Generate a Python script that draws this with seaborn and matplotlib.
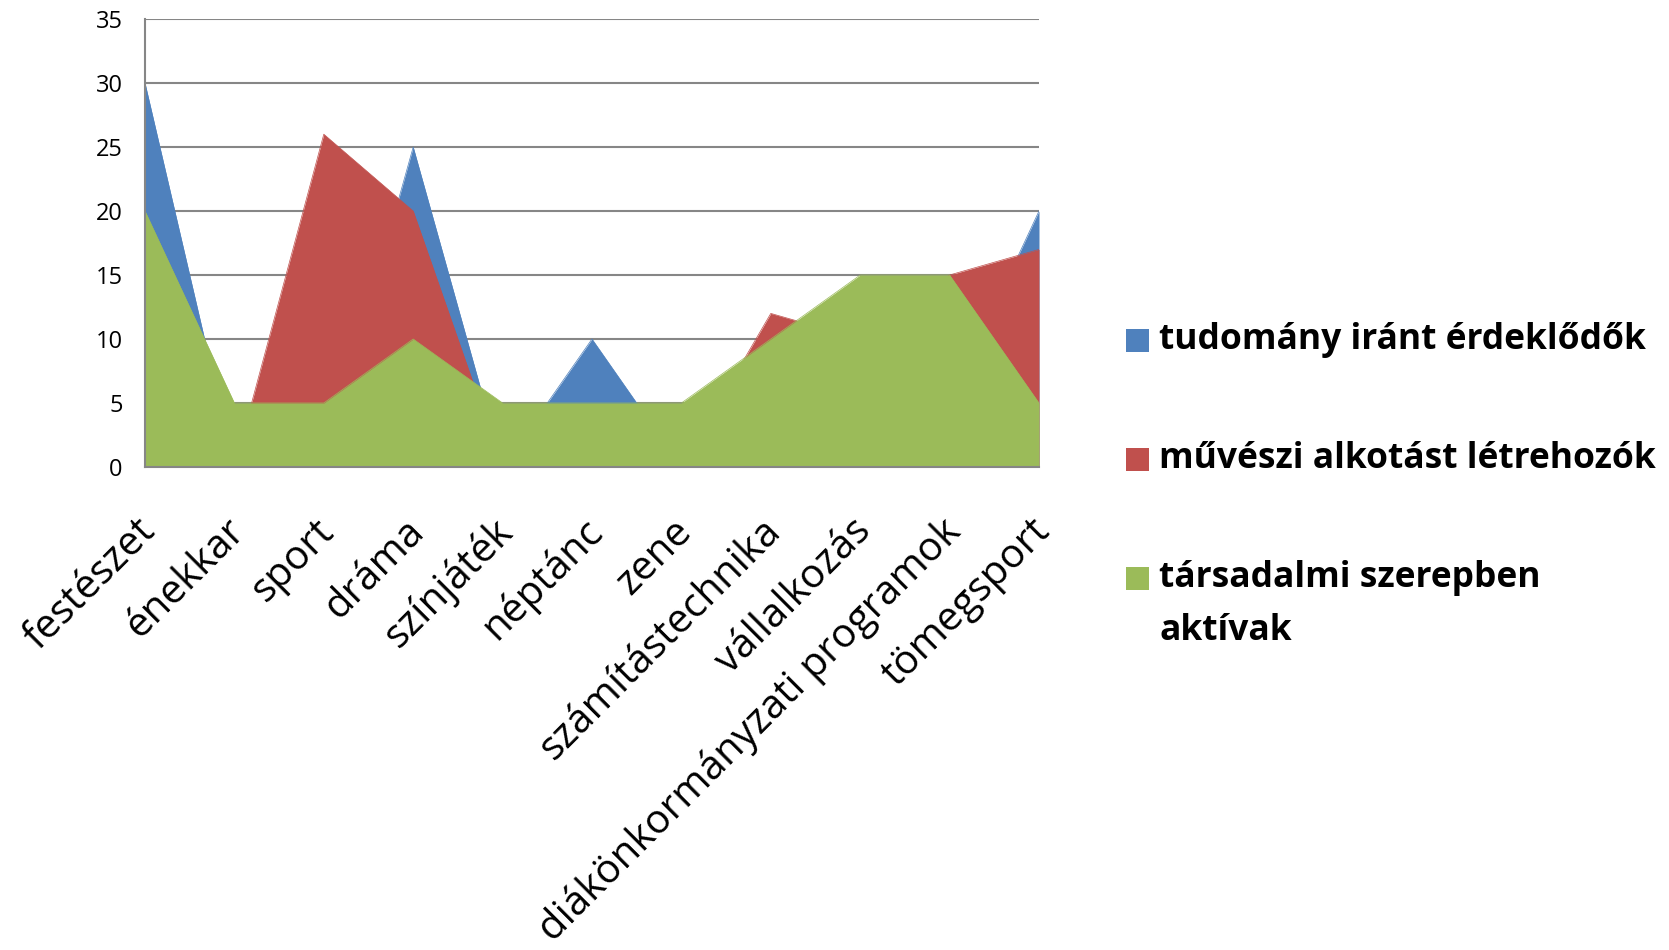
import matplotlib
matplotlib.use("Agg")
import matplotlib.pyplot as plt
import matplotlib.transforms as mtransforms
import seaborn as sns
import pandas as pd
import numpy as np
from matplotlib.patches import Rectangle

categories = ["festészet", "énekkar", "sport", "dráma", "színjáték", "néptánc",
              "zene", "számítástechnika", "vállalkozás",
              "diákönkormányzati programok", "tömegsport"]
tudomany = [30, 0, 0, 25, 0, 10, 0, 5, 5, 5, 20]
muveszi = [0, 0, 26, 20, 0, 0, 0, 12, 10, 15, 17]
tarsadalmi = [20, 5, 5, 10, 5, 5, 5, 10, 15, 15, 5]
series_names = ["tudomány iránt érdeklődők", "művészi alkotást létrehozók",
                "társadalmi szerepben\naktívak"]
y_ticks = [0, 5, 10, 15, 20, 25, 30, 35]

colors = ["#4F81BD", "#C0504D", "#9BBB59"]

sns.set_theme(style="white")
plt.rcParams["font.family"] = ["Open Sans", "DejaVu Sans"]

W, H = 1669, 950
fig = plt.figure(figsize=(W / 100, H / 100), dpi=100)
ax = fig.add_axes([145 / W, 1 - 467 / H, (1039 - 145) / W, (467 - 19) / H])

x = np.arange(len(categories))
df = pd.DataFrame({"x": np.tile(x, 3),
                   "value": tudomany + muveszi + tarsadalmi,
                   "series": np.repeat(series_names, len(categories))})

for name, col in zip(series_names, colors):
    sub = df[df["series"] == name]
    ax.fill_between(sub["x"], 0, sub["value"], color=col, linewidth=0, zorder=2)
    sns.lineplot(data=sub, x="x", y="value", color=col, linewidth=0.5, ax=ax,
                 zorder=2, legend=False)

ax.set_xlim(0, len(categories) - 1)
ax.set_ylim(0, 35)
ax.set_yticks(y_ticks)
ax.set_yticklabels([str(t) for t in y_ticks], fontsize=17, color="black")
ax.set_xticks(x)
ax.set_xticklabels(categories, fontsize=29, rotation=45, ha="right", va="center",
                   rotation_mode="anchor", color="black")
ax.tick_params(axis="x", pad=42, length=0)
ax.tick_params(axis="y", pad=16, length=0)
shift = mtransforms.ScaledTranslation(5 / 100, 0, fig.dpi_scale_trans)
for lab in ax.get_xticklabels():
    lab.set_transform(lab.get_transform() + shift)
ax.set_xlabel("")
ax.set_ylabel("")
ax.grid(axis="y", color="#868686", linewidth=1.5, zorder=1)
ax.grid(axis="x", visible=False)
ax.set_axisbelow(True)
for s in ["top", "right"]:
    ax.spines[s].set_visible(False)
for s in ["left", "bottom"]:
    ax.spines[s].set_color("#868686")
    ax.spines[s].set_linewidth(1.5)
    ax.spines[s].set_zorder(3)

# legend (square markers + bold labels), positioned in figure pixels
sq_centers = [340, 459, 578]
sq = 23
line_gap = 53
for cy, col, name in zip(sq_centers, colors, series_names):
    fig.add_artist(Rectangle((1126 / W, 1 - (cy + sq / 2) / H), sq / W, sq / H,
                             transform=fig.transFigure, facecolor=col,
                             edgecolor="none"))
    for i, line in enumerate(name.split("\n")):
        fig.text(1159 / W, 1 - (cy + 9 + i * line_gap) / H, line, fontsize=25.5,
                 fontweight="bold", color="black", ha="left", va="baseline")

fig.savefig("out.png", dpi=100)
